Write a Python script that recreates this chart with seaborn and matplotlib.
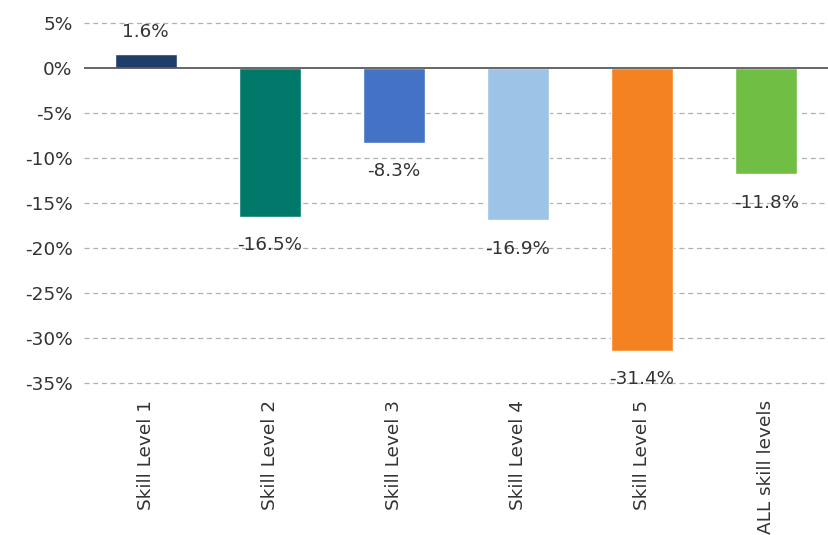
import matplotlib
matplotlib.use("Agg")
import matplotlib.pyplot as plt
import seaborn as sns
import pandas as pd

categories = ["Skill Level 1", "Skill Level 2", "Skill Level 3", "Skill Level 4", "Skill Level 5", "ALL skill levels"]
values = [1.6, -16.5, -8.3, -16.9, -31.4, -11.8]
colors = ["#1F3D6B", "#00786A", "#4472C4", "#9DC3E6", "#F58220", "#70BE44"]
yticks = [5, 0, -5, -10, -15, -20, -25, -30, -35]

sns.set_theme(style="white")
plt.rcParams['font.family'] = ['DejaVu Sans']

df = pd.DataFrame({"cat": categories, "val": values})

fig = plt.figure(figsize=(8.29, 5.35), dpi=100)
ax = fig.add_axes([0.101, 0.284, 0.898, 0.673])

sns.barplot(data=df, x="cat", y="val", hue="cat", palette=colors, legend=False,
            width=0.5, ax=ax, saturation=1, zorder=3)

ax.set_ylim(-35, 5)
ax.set_yticks(yticks)
ax.set_yticklabels([f"{t}%" for t in yticks])
for t in yticks:
    if t == 0:
        ax.axhline(0, color="#595959", lw=1.3, zorder=4)
    else:
        ax.axhline(t, color="#B0B0B0", lw=0.9, ls=(0, (4, 3)), zorder=1, clip_on=False)

txt = "#333333"
for i, v in enumerate(values):
    if v >= 0:
        ax.annotate(f"{v:.1f}%", (i, v), xytext=(0, 9), textcoords="offset points",
                    ha="center", va="bottom", fontsize=13.2, color=txt)
    else:
        ax.annotate(f"{v:.1f}%", (i, v), xytext=(0, -14), textcoords="offset points",
                    ha="center", va="top", fontsize=13.2, color=txt)

ax.set_xlabel("")
ax.set_ylabel("")
ax.tick_params(axis="x", labelrotation=90, labelsize=13.3, colors=txt, pad=12, length=0)
ax.tick_params(axis="y", labelsize=13.3, colors=txt, length=0, pad=8)
for s in ax.spines.values():
    s.set_visible(False)
ax.set_xlim(-0.5, 5.5)

fig.savefig("out.png", dpi=100)
